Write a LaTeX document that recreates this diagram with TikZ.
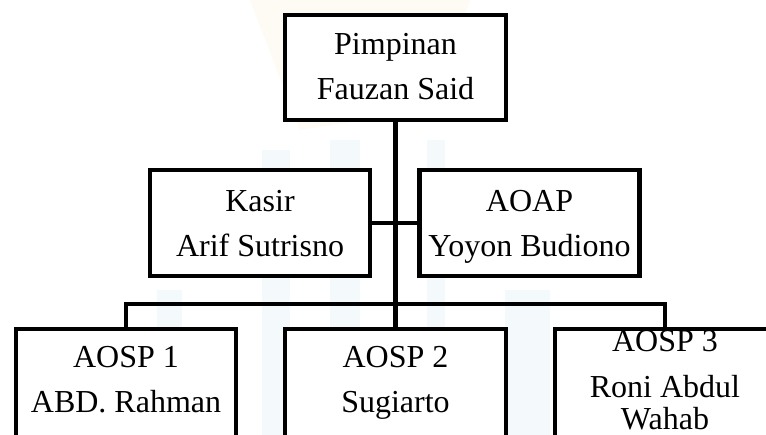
\documentclass[tikz,border=0pt]{standalone}
\usepackage{fontspec}
\setmainfont{Liberation Serif}
\definecolor{wmblue}{HTML}{F4F9FB}
\definecolor{wmyellow}{HTML}{FEFBF5}
\tikzset{
  orgbox/.style={draw=black, line width=4.2pt, fill=white, rectangle, inner sep=0pt,
                 minimum width=220pt, minimum height=106pt},
  lowbox/.style={orgbox, minimum height=150pt},
  line/.style={draw=black, line width=4.2pt},
  txt/.style={font=\fontsize{32}{38}\selectfont, inner sep=0pt, anchor=base},
  wmb/.style={fill=wmblue},
  wmy/.style={fill=wmyellow}
}
\begin{document}
\begin{tikzpicture}[x=1pt,y=-1pt]
\useasboundingbox (0,0) rectangle (766,435);
\clip (0,0) rectangle (766,435);
\fill[white] (0,0) rectangle (766,435);
% faint watermark
\fill[wmy] (250,0) -- (470,0) -- (430,110) -- (300,130) -- cycle;
\fill[wmb] (262,150) rectangle (290,435);
\fill[wmb] (157,290) rectangle (182,435);
\fill[wmb] (330,140) rectangle (360,435);
\fill[wmb] (427,140) rectangle (445,435);
\fill[wmb] (505,290) rectangle (550,435);
% boxes
\node[orgbox, minimum width=221pt, minimum height=105pt] (top) at (395.5,67.5) {};
\node[orgbox] (kasir) at (260,223) {};
\node[orgbox] (aoap) at (529.5,223) {};
\node[lowbox] (a1) at (126,404) {};
\node[lowbox, minimum width=221pt] (a2) at (395.5,404) {};
\node[lowbox] (a3) at (665,404) {};
% connectors
\coordinate (bar) at (395.5,304);
\draw[line] (top.south) -- (a2.north);
\draw[line] (kasir.east) -- (aoap.west);
\draw[line] (a1.north) |- (bar) -| (a3.north);
% redraw boxes over lines
\node[orgbox, minimum width=221pt, minimum height=105pt] (topb) at (395.5,67.5) {};
\node[orgbox] (kasirb) at (260,223) {};
\node[orgbox] (aoapb) at (529.5,223) {};
\node[lowbox] (a1b) at (126,404) {};
\node[lowbox, minimum width=221pt] (a2b) at (395.5,404) {};
\node[lowbox] (a3b) at (665,404) {};
% texts
\node[txt] (t1) at (395.5,55) {Pimpinan};
\node[txt] (t2) at (395.5,100) {Fauzan Said};
\node[txt] (k1) at (260,212) {Kasir};
\node[txt] (k2) at (260,257) {Arif Sutrisno};
\node[txt] (p1) at (529.5,212) {AOAP};
\node[txt] (p2) at (529.5,257) {Yoyon Budiono};
\node[txt] (s1) at (126,368) {AOSP 1};
\node[txt] (s1b) at (126,413) {ABD. Rahman};
\node[txt] (s2) at (395.5,368) {AOSP 2};
\node[txt] (s2b) at (395.5,413) {Sugiarto};
\node[txt] (s3) at (665,352) {AOSP 3};
\node[txt] (s3b) at (665,398) {Roni Abdul};
\node[txt] (s3c) at (665,430) {Wahab};
\end{tikzpicture}
\end{document}
